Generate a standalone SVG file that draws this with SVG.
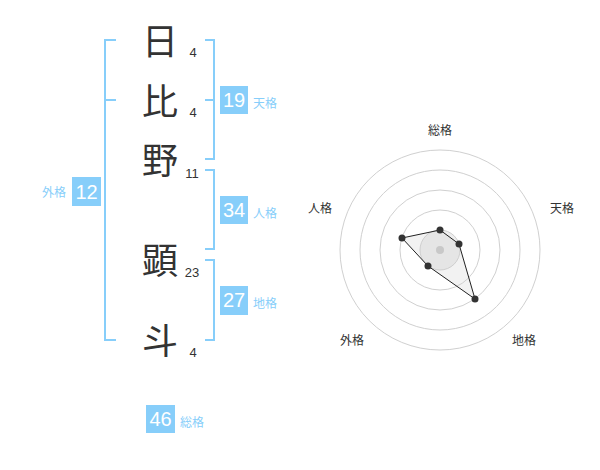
<svg xmlns="http://www.w3.org/2000/svg" width="600" height="470" viewBox="0 0 600 470">
<style>
.ch{font-family:"Noto Sans CJK JP","Noto Sans CJK SC",sans-serif;font-size:36px;fill:#333;text-anchor:middle}
.n{font-family:"Liberation Sans",Arial,sans-serif;font-size:13px;fill:#333;text-anchor:middle}
.br{fill:none;stroke:#87cefa;stroke-width:2}
.box{fill:#87cefa}
.bt{font-family:"Liberation Sans",Arial,sans-serif;font-size:20px;fill:#fff;text-anchor:middle}
.bl{font-family:"Noto Sans CJK JP",sans-serif;font-size:12px;fill:#87cefa}
.rl{font-family:"Noto Sans CJK JP",sans-serif;font-size:12px;fill:#333;text-anchor:middle}
.ring{fill:none;stroke:#d0d0d0;stroke-width:1}
.dot{fill:#333}
</style>
<rect width="600" height="470" fill="#fff"/>
<g id="chars">
<g id="c1"><text class="ch" x="160" y="55">日</text><text class="n" x="193" y="57">4</text></g>
<g id="c2"><text class="ch" x="160" y="115">比</text><text class="n" x="193" y="117">4</text></g>
<g id="c3"><text class="ch" x="160" y="174">野</text><text class="n" x="192" y="178">11</text></g>
<g id="c4"><text class="ch" x="160" y="274">顕</text><text class="n" x="192" y="277">23</text></g>
<g id="c5"><text class="ch" x="160" y="354">斗</text><text class="n" x="193" y="357">4</text></g>
</g>
<g id="connectors">
<path class="br" d="M116,40 H105 V340 H116 M105,100 H116"/>
<path class="br" d="M205,40 H214 V159 H205 M205,100 H214"/>
<path class="br" d="M205,170 H214 V249 H205"/>
<path class="br" d="M205,260 H214 V340 H205"/>
</g>
<g id="gaikaku"><rect class="box" x="72" y="177" width="29" height="29"/><text class="bt" x="86.5" y="199">12</text><text class="bl" x="66" y="197" text-anchor="end">外格</text></g>
<g id="tenkaku"><rect class="box" x="220" y="86" width="28" height="28"/><text class="bt" x="234" y="107">19</text><text class="bl" x="253" y="108">天格</text></g>
<g id="jinkaku"><rect class="box" x="220" y="196" width="28" height="28"/><text class="bt" x="234" y="217">34</text><text class="bl" x="253" y="218">人格</text></g>
<g id="chikaku"><rect class="box" x="220" y="286" width="28" height="29"/><text class="bt" x="234" y="307">27</text><text class="bl" x="253" y="308">地格</text></g>
<g id="soukaku"><rect class="box" x="146" y="405" width="29" height="28"/><text class="bt" x="160.5" y="426">46</text><text class="bl" x="180" y="427">総格</text></g>
<g id="radar">
<circle class="ring" cx="440" cy="250" r="100"/>
<circle class="ring" cx="440" cy="250" r="80"/>
<circle class="ring" cx="440" cy="250" r="60"/>
<circle class="ring" cx="440" cy="250" r="40"/>
<circle cx="440" cy="250" r="20" fill="#eeeeee" stroke="#d0d0d0"/>
<polygon points="440,230 459,244 475,299 428,266 402,238" fill="#ccc" fill-opacity="0.25" stroke="#222" stroke-width="1"/>
<circle cx="440" cy="250" r="4" fill="#c8c8c8"/>
<circle class="dot" cx="440" cy="230" r="3.5"/>
<circle class="dot" cx="459" cy="244" r="3.5"/>
<circle class="dot" cx="475" cy="299" r="3.5"/>
<circle class="dot" cx="428" cy="266" r="3.5"/>
<circle class="dot" cx="402" cy="238" r="3.5"/>
<text class="rl" x="440" y="135">総格</text>
<text class="rl" x="562" y="213">天格</text>
<text class="rl" x="524" y="345">地格</text>
<text class="rl" x="352" y="345">外格</text>
<text class="rl" x="320" y="213">人格</text>
</g>
</svg>
